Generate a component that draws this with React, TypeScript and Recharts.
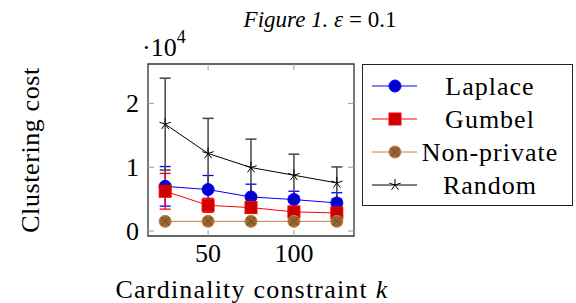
import { ComposedChart, Line, XAxis, YAxis, ErrorBar, ReferenceArea } from 'recharts'

// cardinality constraint k
const kValues = [25, 50, 75, 100, 125]

// clustering cost, in units of 10^4
const laplaceCost = [0.7, 0.65, 0.534, 0.493, 0.44]
const laplaceErr = [0.31, 0.22, 0.2, 0.13, 0.16]
const gumbelCost = [0.623, 0.403, 0.367, 0.3, 0.283]
const gumbelErr = [0.28, 0.11, 0.05, 0.04, 0.04]
const nonPrivateCost = [0.152, 0.152, 0.152, 0.152, 0.152]
const randomCost = [1.675, 1.215, 0.995, 0.874, 0.754]
const randomErr = [0.72, 0.55, 0.445, 0.33, 0.25]

const seriesNames = ['Laplace', 'Gumbel', 'Non-private', 'Random']
const xTicks = [50, 100]
const yTicks = [0, 1, 2]

const data = kValues.map((k, i) => ({
    k,
    laplace: laplaceCost[i],
    laplaceErr: laplaceErr[i],
    gumbel: gumbelCost[i],
    gumbelErr: gumbelErr[i],
    nonPrivate: nonPrivateCost[i],
    random: randomCost[i],
    randomErr: randomErr[i],
}))

const W = 576
const H = 303
const PLOT_LEFT = 148
const PLOT_RIGHT = 354
const PLOT_TOP = 64
const PLOT_BOTTOM = 236
const X_AXIS_H = 60
const FONT = '"Liberation Serif", "Times New Roman", serif'
const TICK = '#9a9a9a'

const X_DOMAIN: [number, number] = [15, 135]
const Y_DOMAIN: [number, number] = [-0.078, 2.617]

// markers
const Dot = (props: any) => <circle cx={props.cx} cy={props.cy} r={6} fill="#0000cc" stroke="#0000ff" strokeWidth={1} />
const Square = (props: any) => <rect x={props.cx - 6} y={props.cy - 6} width={12} height={12} fill="#cc0000" stroke="#ff0000" strokeWidth={1} />
const OTimes = (props: any) => {
    const { cx, cy } = props
    const d = 4.2
    return (
        <g>
            <circle cx={cx} cy={cy} r={6} fill="#996633" stroke="#bf8040" strokeWidth={1} />
            <line x1={cx - d} y1={cy - d} x2={cx + d} y2={cy + d} stroke="#6b4420" strokeWidth={0.8} />
            <line x1={cx - d} y1={cy + d} x2={cx + d} y2={cy - d} stroke="#6b4420" strokeWidth={0.8} />
        </g>
    )
}
const Star = (props: any) => {
    const { cx, cy } = props
    const r = 6
    return (
        <g>
            {[90, 162, 234, 306, 18].map(a => {
                const rad = (a * Math.PI) / 180
                return <line key={a} x1={cx} y1={cy} x2={cx + r * Math.cos(rad)} y2={cy - r * Math.sin(rad)} stroke="#000" strokeWidth={1} />
            })}
        </g>
    )
}

const seriesColors = ['#0000ff', '#ff0000', '#bf8040', '#000000']
const seriesMarkers = [Dot, Square, OTimes, Star]

const XTick = (props: any) => {
    const { x, payload } = props
    return (
        <g>
            <line x1={x} y1={PLOT_BOTTOM} x2={x} y2={PLOT_BOTTOM - 6} stroke={TICK} />
            <line x1={x} y1={PLOT_TOP} x2={x} y2={PLOT_TOP + 6} stroke={TICK} />
            <text x={x} y={262} textAnchor="middle" fontFamily={FONT} fontSize={26} fill="#000">{payload.value}</text>
        </g>
    )
}

const YTick = (props: any) => {
    const { y, payload } = props
    return (
        <g>
            <line x1={PLOT_LEFT} y1={y} x2={PLOT_LEFT + 6} y2={y} stroke={TICK} />
            <line x1={PLOT_RIGHT - 6} y1={y} x2={PLOT_RIGHT} y2={y} stroke={TICK} />
            <text x={139} y={y + 9} textAnchor="end" fontFamily={FONT} fontSize={26} fill="#000">{payload.value}</text>
        </g>
    )
}

const XLabel = () => (
    <text x={252} y={298} textAnchor="middle" fontFamily={FONT} fontSize={26} letterSpacing={1.2} fill="#000">
        Cardinality constraint <tspan fontStyle="italic">k</tspan>
    </text>
)

const YLabel = () => (
    <text x={0} y={0} transform="translate(39,150) rotate(-90)" textAnchor="middle" fontFamily={FONT} fontSize={26} letterSpacing={0.6} fill="#000">
        Clustering cost
    </text>
)

function LegendBox() {
    return (
        <div style={{ position: 'absolute', left: 362, top: 64, border: '1.3px solid #222', boxSizing: 'border-box', width: 211, height: 142, paddingTop: 5, background: '#fff' }}>
            {seriesNames.map((name, i) => {
                const M = seriesMarkers[i]
                return (
                    <div key={name} style={{ position: 'relative', height: 33 }}>
                        <svg width={62} height={20} style={{ position: 'absolute', left: 0, top: 6 }}>
                            <line x1={9} y1={10} x2={54} y2={10} stroke={seriesColors[i]} strokeWidth={1} />
                            <M cx={32} cy={10} />
                        </svg>
                        <div style={{ position: 'absolute', left: 27, width: 200, top: 0, textAlign: 'center', fontFamily: FONT, fontSize: 26, letterSpacing: 1, color: '#000', lineHeight: '33px', whiteSpace: 'nowrap' }}>{name}</div>
                    </div>
                )
            })}
        </div>
    )
}

export default function App() {
    return (
        <div style={{ position: 'absolute', left: 0, top: 0, width: W, height: H, background: '#fff' }}>
            <div style={{ position: 'absolute', left: 0, width: 640, top: 7, textAlign: 'center', fontFamily: FONT, fontSize: 23, lineHeight: '26px', zIndex: 2 }}>
                <i>Figure 1.</i> <i>ε</i> = 0.1
            </div>
            <div style={{ position: 'absolute', left: 142, top: 33, fontFamily: FONT, fontSize: 26, lineHeight: '30px', zIndex: 2 }}>
                ·10<sup style={{ fontSize: 18, verticalAlign: 'top', lineHeight: '14px', position: 'relative', top: -3 }}>4</sup>
            </div>
            <ComposedChart
                width={W}
                height={H}
                data={data}
                margin={{ top: PLOT_TOP, right: W - PLOT_RIGHT, bottom: H - PLOT_BOTTOM - X_AXIS_H, left: 0 }}
            >
                <XAxis
                    dataKey="k"
                    type="number"
                    domain={X_DOMAIN}
                    ticks={xTicks}
                    height={X_AXIS_H}
                    axisLine={false}
                    tickLine={false}
                    tick={<XTick />}
                    label={<XLabel />}
                />
                <YAxis
                    type="number"
                    domain={Y_DOMAIN}
                    ticks={yTicks}
                    width={PLOT_LEFT}
                    axisLine={false}
                    tickLine={false}
                    tick={<YTick />}
                    label={<YLabel />}
                />
                <ReferenceArea x1={X_DOMAIN[0]} x2={X_DOMAIN[1]} y1={Y_DOMAIN[0]} y2={Y_DOMAIN[1]} fill="none" stroke="#333" strokeWidth={1.3} />
                <Line dataKey="laplace" name={seriesNames[0]} stroke={seriesColors[0]} strokeWidth={1} dot={<Dot />} isAnimationActive={false}>
                    <ErrorBar dataKey="laplaceErr" direction="y" width={5.5} stroke={seriesColors[0]} strokeWidth={1.3} />
                </Line>
                <Line dataKey="gumbel" name={seriesNames[1]} stroke={seriesColors[1]} strokeWidth={1} dot={<Square />} isAnimationActive={false}>
                    <ErrorBar dataKey="gumbelErr" direction="y" width={5.5} stroke={seriesColors[1]} strokeWidth={1.3} />
                </Line>
                <Line dataKey="nonPrivate" name={seriesNames[2]} stroke={seriesColors[2]} strokeWidth={1} dot={<OTimes />} isAnimationActive={false} />
                <Line dataKey="random" name={seriesNames[3]} stroke={seriesColors[3]} strokeWidth={1} dot={<Star />} isAnimationActive={false}>
                    <ErrorBar dataKey="randomErr" direction="y" width={5.5} stroke="#444" strokeWidth={1.5} />
                </Line>
            </ComposedChart>
            <LegendBox />
        </div>
    )
}
